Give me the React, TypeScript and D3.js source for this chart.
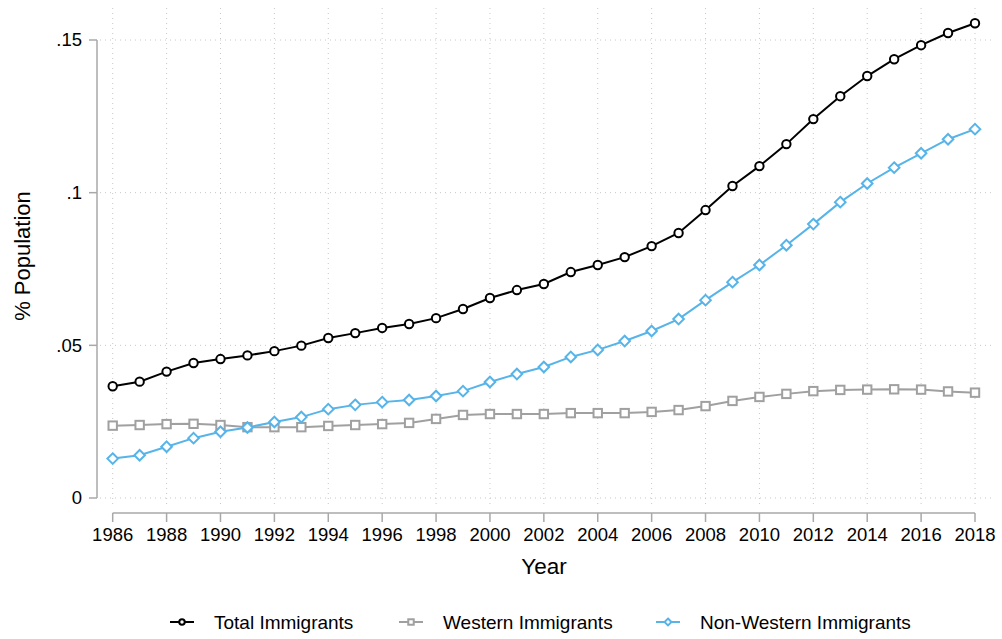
import React from "react";
import * as d3 from "d3";

const years = d3.range(1986, 2019);
const total = [0.0366, 0.0381, 0.0414, 0.0442, 0.0455, 0.0467, 0.0481, 0.0499, 0.0524, 0.054, 0.0557, 0.057, 0.0589, 0.0619, 0.0655, 0.0681, 0.0701, 0.074, 0.0763, 0.0789, 0.0825, 0.0868, 0.0943, 0.1022, 0.1087, 0.1159, 0.1241, 0.1316, 0.1382, 0.1437, 0.1483, 0.1523, 0.1555];
const western = [0.0237, 0.0239, 0.0242, 0.0243, 0.0239, 0.0232, 0.0232, 0.0232, 0.0236, 0.0239, 0.0242, 0.0246, 0.0259, 0.0272, 0.0275, 0.0275, 0.0275, 0.0278, 0.0278, 0.0278, 0.0282, 0.0288, 0.0301, 0.0318, 0.0331, 0.0341, 0.035, 0.0354, 0.0355, 0.0356, 0.0355, 0.0349, 0.0345];
const nonWestern = [0.0129, 0.014, 0.0168, 0.0196, 0.0217, 0.0231, 0.0249, 0.0265, 0.0291, 0.0305, 0.0314, 0.0321, 0.0334, 0.035, 0.038, 0.0406, 0.0429, 0.0462, 0.0485, 0.0514, 0.0547, 0.0586, 0.0648, 0.0707, 0.0763, 0.0828, 0.0897, 0.0969, 0.103, 0.1082, 0.1129, 0.1175, 0.1208];
const yTicks = [0, 0.05, 0.1, 0.15];
const yTickLabels = ["0", ".05", ".1", ".15"];
const xTicks = d3.range(1986, 2019, 2);
const seriesNames = ["Total Immigrants", "Western Immigrants", "Non-Western Immigrants"];
const seriesColors = ["#000000", "#a0a0a0", "#56b4e9"];
const seriesShapes = ["circle", "square", "diamond"];

const W = 1002, H = 639;
const x = d3.scaleLinear().domain([1986, 2018]).range([112.7, 975]);
const y = d3.scaleLinear().domain([0, 0.15]).range([498, 40]);
const font = "'Liberation Sans', Arial, Helvetica, sans-serif";

function Marker({ shape, cx, cy, color, s }: { shape: string; cx: number; cy: number; color: string; s: number }) {
  const sw = 2;
  if (shape === "circle") return <circle cx={cx} cy={cy} r={4.2 * s} fill="white" stroke={color} strokeWidth={sw} />;
  if (shape === "square") return <rect x={cx - 4.2 * s} y={cy - 4.2 * s} width={8.4 * s} height={8.4 * s} fill="white" stroke={color} strokeWidth={sw} />;
  const r = 5.3 * s;
  return <path d={`M${cx},${cy - r}L${cx + r},${cy}L${cx},${cy + r}L${cx - r},${cy}Z`} fill="white" stroke={color} strokeWidth={sw} />;
}

export default function App() {
  const data = [total, western, nonWestern];
  const line = d3.line<number>().x((_, i) => x(years[i])).y((d) => y(d));
  const legendX = [182, 411, 668];
  const legendY = 622;
  return (
    <svg width={W} height={H} style={{ position: "absolute", left: 0, top: 0, background: "white" }} fontFamily={font}>
      <rect width={W} height={H} fill="white" />
      {/* grid */}
      {yTicks.map((t) => (
        <line key={"gy" + t} x1={100} x2={993} y1={y(t)} y2={y(t)} stroke="#c8c8c8" strokeWidth={1} strokeDasharray="1,4" />
      ))}
      {xTicks.map((t) => (
        <line key={"gx" + t} x1={x(t)} x2={x(t)} y1={8} y2={505} stroke="#c8c8c8" strokeWidth={1} strokeDasharray="1,4" />
      ))}
      {/* y axis */}
      <line x1={97} x2={97} y1={y(0.15)} y2={y(0)} stroke="#a8a8a8" strokeWidth={1.5} />
      {yTicks.map((t, i) => (
        <g key={"yt" + t}>
          <line x1={89} x2={97} y1={y(t)} y2={y(t)} stroke="#a8a8a8" strokeWidth={1.5} />
          <text x={82} y={y(t)} dy="0.35em" textAnchor="end" fontSize={18.5} fill="#000">{yTickLabels[i]}</text>
        </g>
      ))}
      <text transform={`translate(30,256) rotate(-90)`} textAnchor="middle" fontSize={22} fill="#000">% Population</text>
      {/* x axis */}
      <line x1={x(1986)} x2={x(2018)} y1={513} y2={513} stroke="#a8a8a8" strokeWidth={1.5} />
      {xTicks.map((t) => (
        <g key={"xt" + t}>
          <line x1={x(t)} x2={x(t)} y1={513} y2={522} stroke="#a8a8a8" strokeWidth={1.5} />
          <text x={x(t)} y={541} textAnchor="middle" fontSize={18.5} fill="#000">{t}</text>
        </g>
      ))}
      <text x={544} y={574} textAnchor="middle" fontSize={22.5} fill="#000">Year</text>
      {/* series */}
      {data.map((d, si) => (
        <g key={"s" + si}>
          <path d={line(d) || ""} fill="none" stroke={seriesColors[si]} strokeWidth={2} />
          {d.map((v, i) => (
            <Marker key={i} shape={seriesShapes[si]} cx={x(years[i])} cy={y(v)} color={seriesColors[si]} s={1} />
          ))}
        </g>
      ))}
      {/* legend */}
      {seriesNames.map((n, i) => (
        <g key={"l" + i}>
          <line x1={legendX[i] - 12} x2={legendX[i] + 12} y1={legendY} y2={legendY} stroke={seriesColors[i]} strokeWidth={2} />
          <Marker shape={seriesShapes[i]} cx={legendX[i]} cy={legendY} color={seriesColors[i]} s={0.65} />
          <text x={legendX[i] + 32} y={legendY} dy="0.35em" fontSize={19} fill="#000">{n}</text>
        </g>
      ))}
    </svg>
  );
}
